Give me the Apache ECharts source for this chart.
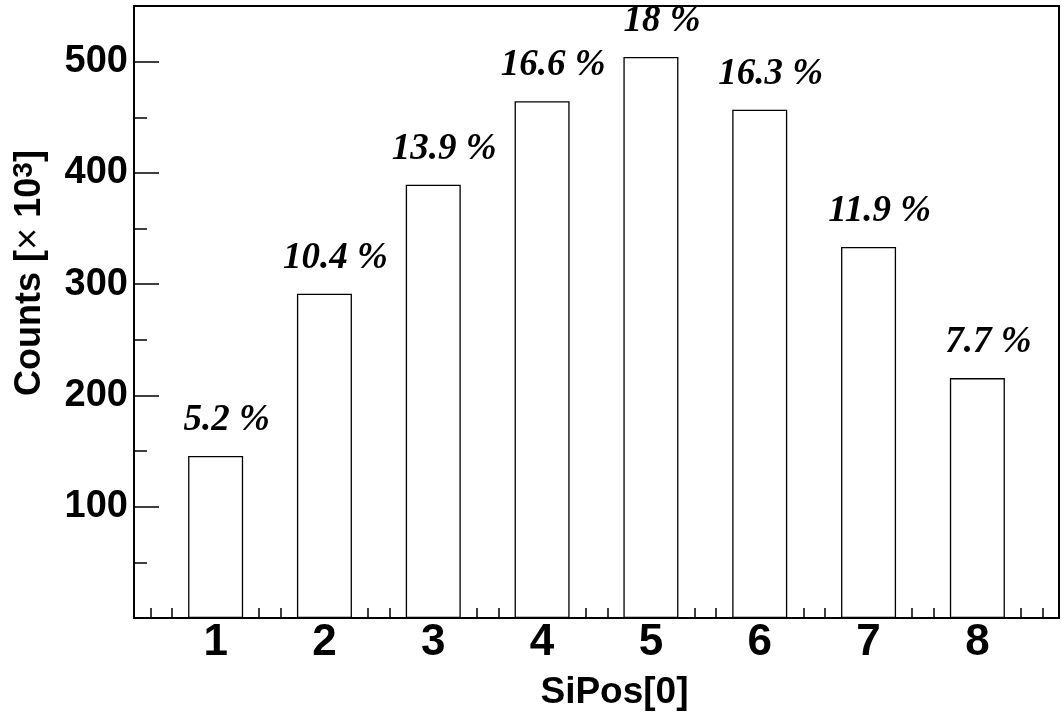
<!DOCTYPE html>
<html>
<head>
<meta charset="utf-8">
<script src="https://cdn.jsdelivr.net/npm/echarts@6/dist/echarts.min.js"></script>
<style>
  html, body { margin: 0; padding: 0; background: #ffffff; }
  #chart { width: 1061px; height: 713px; }
</style>
</head>
<body>
<div id="chart"></div>
<script>
// Hits per silicon position SiPos[0], counts in units of 10^3
const positions = [1, 2, 3, 4, 5, 6, 7, 8];
const counts = [145.6, 291.4, 389.3, 464.5, 504.2, 456.8, 333.4, 215.6];

// Axis tick labels
const xTickLabels = [1, 2, 3, 4, 5, 6, 7, 8];
const yTickLabels = [100, 200, 300, 400, 500];
const yMinorTicks = [50, 150, 250, 350, 450];

const X_MIN = 0.25, X_MAX = 8.75;
const Y_MIN = 0, Y_MAX = 550;

// fine x ticks every 0.2 between the integer ticks
const xMinorTicks = [];
for (let i = 2; i <= 43; i++) {
  const v = +(i * 0.2).toFixed(1);
  if (Math.abs(v - Math.round(v)) > 1e-6) xMinorTicks.push(v);
}

const total = counts.reduce((a, b) => a + b, 0);
const barData = positions.map((p, i) => [p, counts[i]]);

const SANS = '"Liberation Sans", Arial, Helvetica, sans-serif';
const SERIF = '"Liberation Serif", "Times New Roman", serif';
const AXIS_LINE = { show: true, onZero: false, lineStyle: { color: '#000', width: 2 } };

const chart = echarts.init(document.getElementById('chart'), null, { renderer: 'canvas' });

chart.setOption({
  animation: false,
  backgroundColor: '#ffffff',
  grid: {
    left: 134, top: 6, width: 925, height: 612,
    containLabel: false, outerBoundsMode: 'none',
    show: true, borderColor: '#000', borderWidth: 2, backgroundColor: 'transparent'
  },
  xAxis: [
    {
      type: 'value', position: 'bottom', min: X_MIN, max: X_MAX,
      axisLine: AXIS_LINE,
      splitLine: { show: false },
      axisTick: { show: true, inside: true, length: 20, customValues: xTickLabels,
                  lineStyle: { color: '#000', width: 1.5 } },
      axisLabel: { show: true, customValues: xTickLabels, margin: 3,
                   color: '#000', fontFamily: SANS, fontWeight: 'bold', fontSize: 44 },
      name: 'SiPos[0]', nameLocation: 'middle', nameGap: 56,
      nameTextStyle: { color: '#000', fontFamily: SANS, fontWeight: 'bold', fontSize: 37,
                       padding: [0, 0, 0, 36] }
    },
    {
      type: 'value', position: 'bottom', min: X_MIN, max: X_MAX,
      axisLine: { show: false }, splitLine: { show: false }, axisLabel: { show: false },
      axisTick: { show: true, inside: true, length: 10, customValues: xMinorTicks,
                  lineStyle: { color: '#000', width: 1.5 } }
    }
  ],
  yAxis: [
    {
      type: 'value', position: 'left', min: Y_MIN, max: Y_MAX,
      axisLine: AXIS_LINE,
      splitLine: { show: false },
      axisTick: { show: true, inside: true, length: 25, customValues: yTickLabels,
                  lineStyle: { color: '#000', width: 1.5 } },
      axisLabel: { show: true, customValues: yTickLabels, margin: 6,
                   color: '#000', fontFamily: SANS, fontWeight: 'bold', fontSize: 38 },
      name: '{t|Counts [}{m|\u00d7}{t| 10}{s|3}{t|]}',
      nameLocation: 'middle', nameRotate: 90, nameGap: 84,
      nameTextStyle: {
        padding: [0, 0, 0, 78],
        rich: {
          t: { fontFamily: SANS, fontWeight: 'bold', fontSize: 36, color: '#000', lineHeight: 40 },
          m: { fontFamily: SANS, fontWeight: 'normal', fontSize: 38, color: '#000', lineHeight: 40 },
          s: { fontFamily: SANS, fontWeight: 'bold', fontSize: 28, color: '#000', lineHeight: 40,
               verticalAlign: 'top' }
        }
      }
    },
    {
      type: 'value', position: 'left', min: Y_MIN, max: Y_MAX,
      axisLine: { show: false }, splitLine: { show: false }, axisLabel: { show: false },
      axisTick: { show: true, inside: true, length: 13, customValues: yMinorTicks,
                  lineStyle: { color: '#000', width: 1.5 } }
    }
  ],
  series: [
    {
      type: 'bar',
      xAxisIndex: 0, yAxisIndex: 0,
      data: barData,
      barWidth: 55,
      itemStyle: { color: '#ffffff', borderColor: '#000', borderWidth: 1.3 },
      label: {
        show: true, position: 'top', distance: 17, offset: [11, 0],
        color: '#000', fontFamily: SERIF, fontStyle: 'italic', fontWeight: 'bold', fontSize: 37,
        formatter: (p) => (+(p.value[1] / total * 100).toFixed(1)) + ' %'
      }
    }
  ]
});
</script>
</body>
</html>
